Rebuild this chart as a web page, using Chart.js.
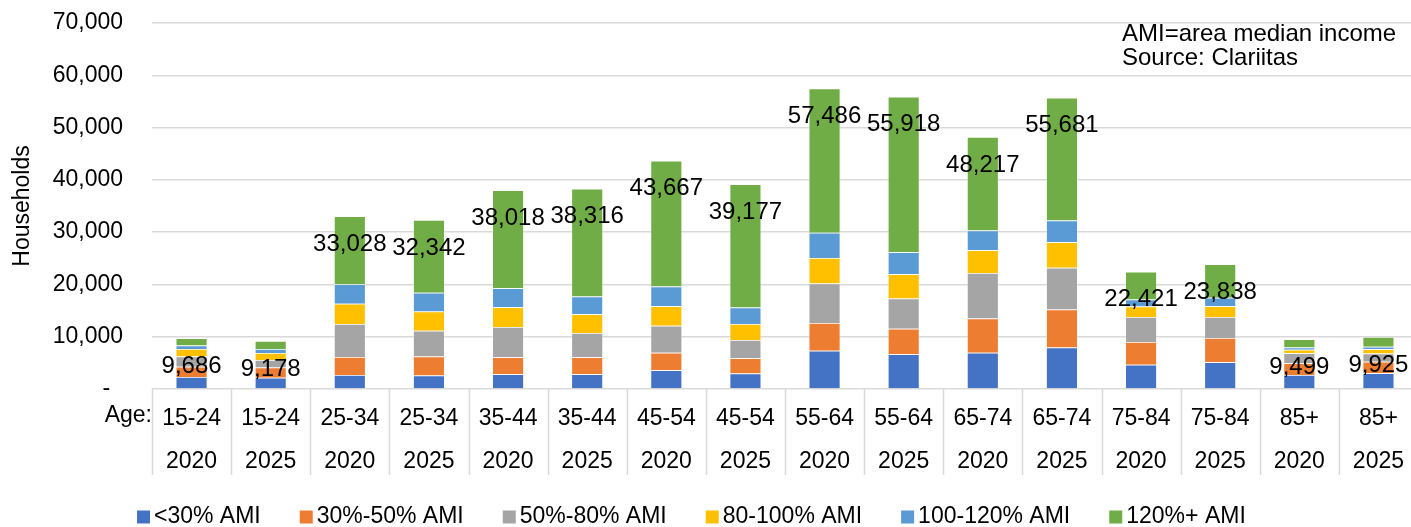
<!DOCTYPE html>
<html>
<head>
<meta charset="utf-8">
<script src="https://cdn.jsdelivr.net/npm/chart.js@4/dist/chart.umd.min.js"></script>
<style>
  html, body { margin: 0; padding: 0; background: #fff; overflow: hidden; }
  #chart { display: block; }
</style>
</head>
<body>
<canvas id="chart" width="1420" height="527" style="width:1420px;height:527px"></canvas>
<script>
// Categories (age group / year)
const ages = ['15-24', '15-24', '25-34', '25-34', '35-44', '35-44', '45-54', '45-54',
              '55-64', '55-64', '65-74', '65-74', '75-84', '75-84', '85+', '85+'];
const years = ['2020', '2025', '2020', '2025', '2020', '2025', '2020', '2025',
               '2020', '2025', '2020', '2025', '2020', '2025', '2020', '2025'];

// Households by income band
const below30 = [2300, 2160, 2700, 2560, 2820, 2820, 3590, 2950, 7310, 6670, 6920, 7950, 4620, 5130, 2690, 3010];
const ami30to50 = [1960, 1970, 3400, 3650, 3270, 3270, 3330, 2950, 5320, 4870, 6540, 7240, 4360, 4620, 2240, 2180];
const ami50to80 = [1960, 1440, 6350, 4940, 5770, 4620, 5190, 3460, 7560, 5770, 8720, 8010, 4810, 4040, 1920, 1600];
const ami80to100 = [1440, 1310, 3850, 3650, 3780, 3590, 3720, 3080, 4870, 4620, 4360, 4870, 1990, 2050, 640, 830];
const ami100to120 = [650, 790, 3720, 3590, 3650, 3400, 3780, 3140, 4810, 4230, 3780, 4170, 1350, 1600, 450, 450];
const ami120plus = [1376, 1508, 13008, 13952, 18728, 20616, 24057, 23597, 27616, 29758, 17897, 23441, 5291, 6398, 1559, 1855];

const seriesNames = ['<30% AMI', '30%-50% AMI', '50%-80% AMI', '80-100% AMI', '100-120% AMI', '120%+ AMI'];
const seriesColors = ['#4472C4', '#ED7D31', '#A5A5A5', '#FFC000', '#5B9BD5', '#70AD47'];
const seriesData = [below30, ami30to50, ami50to80, ami80to100, ami100to120, ami120plus];

const yTicks = [0, 10000, 20000, 30000, 40000, 50000, 60000, 70000];

const FONT = "'Liberation Sans', Arial, sans-serif";
const gridColor = '#D9D9D9';

// Totals drawn a little below the top of each stack
const totalsPlugin = {
    id: 'totals',
    afterDatasetsDraw(chart) {
        const ctx = chart.ctx;
        const xs = chart.scales.x, ys = chart.scales.y;
        ctx.save();
        ctx.font = '24px ' + FONT;
        ctx.fillStyle = '#000';
        ctx.textAlign = 'center';
        ctx.textBaseline = 'middle';
        ages.forEach((a, i) => {
            const total = seriesData.reduce((s, arr) => s + arr[i], 0);
            const x = xs.getPixelForValue(i);
            const y = ys.getPixelForValue(total) + 28;
            ctx.fillText(total.toLocaleString('en-US'), x, y);
        });
        ctx.restore();
    }
};

// Category separators, "Age:" caption, note and legend
const extrasPlugin = {
    id: 'extras',
    afterDraw(chart) {
        const ctx = chart.ctx;
        const xs = chart.scales.x;
        const area = chart.chartArea;
        const half = (xs.getPixelForValue(1) - xs.getPixelForValue(0)) / 2;
        ctx.save();

        ctx.strokeStyle = gridColor;
        ctx.lineWidth = 1.5;
        for (let i = 0; i <= ages.length; i++) {
            const x = Math.round(xs.getPixelForValue(i) - half) + 0.5;
            ctx.beginPath();
            ctx.moveTo(x, area.bottom);
            ctx.lineTo(x, area.bottom + 86);
            ctx.stroke();
        }

        ctx.fillStyle = '#000';
        ctx.font = '23px ' + FONT;
        ctx.textBaseline = 'middle';
        ctx.textAlign = 'right';
        ctx.fillText('Age:', area.left, area.bottom + 27);

        ctx.textAlign = 'left';
        ctx.font = '24px ' + FONT;
        ctx.fillText('AMI=area median income', 1122, 34);
        ctx.fillText('Source: Clariitas', 1122, 58);

        // legend
        ctx.font = '23px ' + FONT;
        const box = 13, boxGap = 4, itemGap = 39;
        const widths = seriesNames.map(n => box + boxGap + ctx.measureText(n).width);
        let x = 137;
        const y = 517;
        seriesNames.forEach((n, i) => {
            ctx.fillStyle = seriesColors[i];
            ctx.fillRect(x, y - box / 2, box, box);
            ctx.fillStyle = '#000';
            ctx.fillText(n, x + box + boxGap, y);
            x += widths[i] + itemGap;
        });
        ctx.restore();
    }
};

new Chart(document.getElementById('chart'), {
    type: 'bar',
    data: {
        labels: ages.map((a, i) => [a, years[i]]),
        datasets: seriesNames.map((name, i) => ({
            label: name,
            data: seriesData[i],
            backgroundColor: seriesColors[i],
            borderColor: 'rgba(255,255,255,0.5)',
            borderWidth: 0.75,
            barPercentage: 0.4,
            categoryPercentage: 1
        }))
    },
    options: {
        responsive: false,
        animation: false,
        layout: { padding: { top: 23, right: 2, bottom: 0, left: 0 } },
        plugins: {
            legend: { display: false },
            tooltip: { enabled: false }
        },
        scales: {
            x: {
                stacked: true,
                grid: { display: false, drawTicks: false },
                border: { display: false },
                ticks: {
                    autoSkip: false,
                    maxRotation: 0,
                    padding: 8,
                    color: '#000',
                    font: { family: FONT, size: 23, lineHeight: 1.88 }
                },
                afterFit(scale) { scale.height = 138; }
            },
            y: {
                stacked: true,
                min: 0,
                max: 70000,
                afterBuildTicks(scale) { scale.ticks = yTicks.map(v => ({ value: v })); },
                grid: { color: gridColor, lineWidth: 1.5, drawTicks: true, tickLength: 24, tickColor: 'rgba(0,0,0,0)' },
                border: { display: false },
                ticks: {
                    padding: 5,
                    color: '#000',
                    font: { family: FONT, size: 23 },
                    callback: v => v === 0 ? '-  ' : v.toLocaleString('en-US')
                },
                title: {
                    display: true,
                    text: 'Households',
                    color: '#000',
                    font: { family: FONT, size: 23 },
                    padding: { top: 9, bottom: 0 }
                },
                afterFit(scale) { scale.width = 152; }
            }
        }
    },
    plugins: [totalsPlugin, extrasPlugin]
});
</script>
</body>
</html>
